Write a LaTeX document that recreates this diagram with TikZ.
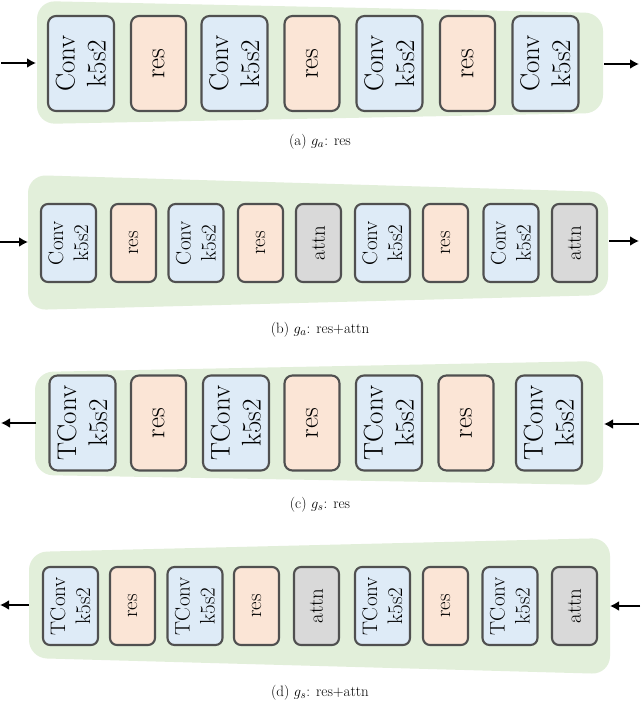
\documentclass[tikz,border=0pt]{standalone}
\usetikzlibrary{arrows.meta}
\definecolor{bggreen}{HTML}{E2EFDA}
\definecolor{convblue}{HTML}{DEEBF7}
\definecolor{respeach}{HTML}{FBE5D6}
\definecolor{attngray}{HTML}{D9D9D9}
\definecolor{bordergray}{HTML}{505050}
\tikzset{
  blk/.style={rotate=90, draw=bordergray, line width=2.1pt, inner sep=0pt, align=center},
  bigtxt/.style={font=\fontsize{27}{31}\selectfont, rounded corners=8pt, minimum width=95pt},
  smalltxt/.style={font=\fontsize{21}{25}\selectfont, rounded corners=7pt, minimum width=78pt},
  convA/.style={blk, bigtxt, fill=convblue, minimum height=66pt},
  resA/.style={blk, bigtxt, fill=respeach, minimum height=55pt},
  convB/.style={blk, smalltxt, fill=convblue, minimum height=55pt},
  resB/.style={blk, smalltxt, fill=respeach, minimum height=45pt},
  attnB/.style={blk, smalltxt, fill=attngray, minimum height=45pt},
  bgarea/.style={fill=bggreen, rounded corners=18pt},
  flow/.style={line width=2.8pt, -{Latex[length=9pt,width=10pt]}},
  captxt/.style={font=\fontsize{15}{17}\selectfont, inner sep=0pt}
}
\begin{document}
\begin{tikzpicture}[x=1pt,y=-1pt]
\useasboundingbox[fill=white] (0,0) rectangle (640,720);

% ---------- (a) ----------
\fill[bgarea] (37,1) -- (603,13) -- (603,113) -- (37,124) -- cycle;
\node[convA] (a1) at (81,63.5) {Conv\\k5s2};
\node[resA]  (a2) at (158.5,63.5) {res};
\node[convA] (a3) at (234.5,63.5) {Conv\\k5s2};
\node[resA]  (a4) at (312,63.5) {res};
\node[convA] (a5) at (389.5,63.5) {Conv\\k5s2};
\node[resA]  (a6) at (467.5,63.5) {res};
\node[convA] (a7) at (545.5,63.5) {Conv\\k5s2};
\coordinate (ainS) at (1,63);
\coordinate (ainE) at (36,63);
\coordinate (aoutS) at (604,64);
\coordinate (aoutE) at (639,64);
\draw[flow] (ainS) -- (ainE);
\draw[flow] (aoutS) -- (aoutE);
\node[captxt] (capa) at (320,142) {(a) $g_a$: res};

% ---------- (b) ----------
\fill[bgarea] (28,175) -- (608,192) -- (608,295) -- (28,310) -- cycle;
\node[convB] (b1) at (68.5,243) {Conv\\k5s2};
\node[resB]  (b2) at (133.5,243) {res};
\node[convB] (b3) at (196,243) {Conv\\k5s2};
\node[resB]  (b4) at (260.5,243) {res};
\node[attnB] (b5) at (318.5,243) {attn};
\node[convB] (b6) at (382.5,243) {Conv\\k5s2};
\node[resB]  (b7) at (445.5,243) {res};
\node[convB] (b8) at (511,243) {Conv\\k5s2};
\node[attnB] (b9) at (574.5,243) {attn};
\coordinate (binS) at (0,242);
\coordinate (binE) at (28,242);
\coordinate (boutS) at (609,241);
\coordinate (boutE) at (639,241);
\draw[flow] (binS) -- (binE);
\draw[flow] (boutS) -- (boutE);
\node[captxt] (capb) at (320,330) {(b) $g_a$: res+attn};

% ---------- (c) ----------
\fill[bgarea] (35,372) -- (603,361) -- (603,485) -- (35,475) -- cycle;
\node[convA] (c1) at (82.5,423) {TConv\\k5s2};
\node[resA]  (c2) at (158.5,423) {res};
\node[convA] (c3) at (236,423) {TConv\\k5s2};
\node[resA]  (c4) at (312,423) {res};
\node[convA] (c5) at (389,423) {TConv\\k5s2};
\node[resA]  (c6) at (466,423) {res};
\node[convA] (c7) at (549,423) {TConv\\k5s2};
\coordinate (cinS) at (639,424);
\coordinate (cinE) at (604,424);
\coordinate (coutS) at (36,423);
\coordinate (coutE) at (1,423);
\draw[flow] (cinS) -- (cinE);
\draw[flow] (coutS) -- (coutE);
\node[captxt] (capc) at (320,505) {(c) $g_s$: res};

% ---------- (d) ----------
\fill[bgarea] (29,552) -- (610,538) -- (610,674) -- (29,658) -- cycle;
\node[convB] (d1) at (70.5,606) {TConv\\k5s2};
\node[resB]  (d2) at (132.5,606) {res};
\node[convB] (d3) at (195,606) {TConv\\k5s2};
\node[resB]  (d4) at (256.5,606) {res};
\node[attnB] (d5) at (316.5,606) {attn};
\node[convB] (d6) at (382.5,606) {TConv\\k5s2};
\node[resB]  (d7) at (445.5,606) {res};
\node[convB] (d8) at (510,606) {TConv\\k5s2};
\node[attnB] (d9) at (574.5,606) {attn};
\coordinate (dinS) at (640,606);
\coordinate (dinE) at (610,606);
\coordinate (doutS) at (29,605);
\coordinate (doutE) at (0,605);
\draw[flow] (dinS) -- (dinE);
\draw[flow] (doutS) -- (doutE);
\node[captxt] (capd) at (320,693) {(d) $g_s$: res+attn};
\end{tikzpicture}
\end{document}
